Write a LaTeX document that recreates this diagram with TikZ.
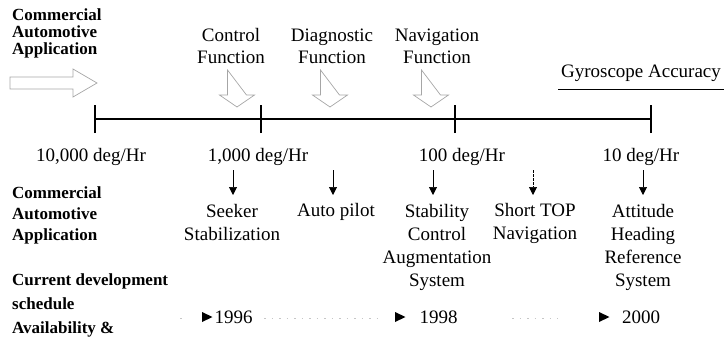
\documentclass[tikz,border=0pt]{standalone}
\usepackage{fontspec}
\setmainfont{Liberation Serif}
\usetikzlibrary{arrows.meta}
\begin{document}
\begin{tikzpicture}[x=1pt,y=-1pt,
  lbl/.style={inner sep=0pt, font=\fontsize{19}{22}\selectfont, align=center},
  app/.style={inner sep=0pt, font=\fontsize{19}{23}\selectfont, align=center},
  head/.style={inner sep=0pt, font=\bfseries\fontsize{17}{#1}\selectfont, align=left, anchor=west},
  hollow/.style={draw=gray!70, line width=0.7pt, line join=miter},
  pointer/.style={line width=0.7pt, -{Triangle[width=8pt,length=8pt]}},
  axis/.style={line width=2.4pt},
  tickmark/.style={line width=1.4pt},
  faint/.style={gray!45, line width=0.8pt, dash pattern=on 1.5pt off 6pt},
  hdown/.pic={\draw[hollow] (-9.5,-37) -- (-9.5,-12) -- (-17.5,-12) -- (0,0)
                 -- (17.5,-12) -- (9.5,-12) -- cycle;}
]
\useasboundingbox (0,0) rectangle (724,343);

% heading at the top left and the incoming hollow arrow
\node[head=17] (apptop) at (12,33) {Commercial\\Automotive\\Application};
\draw[hollow] (10,77) -- (73,77) -- (73,69) -- (97,83) -- (73,97) -- (73,89) -- (10,89) -- cycle;

% function labels with their hollow arrows
\node[lbl] (fctrl) at (231,46) {Control\\Function};
\node[lbl] (fdiag) at (332,46) {Diagnostic\\Function};
\node[lbl] (fnav)  at (437,46) {Navigation\\Function};
\pic at (237,107) {hdown};
\pic at (330,107) {hdown};
\pic at (431,107) {hdown};

% accuracy axis
\node[lbl, anchor=center] (gyro) at (641,73) {Gyroscope Accuracy};
\coordinate (ul1) at (558,89);
\coordinate (ul2) at (724,89);
\draw[line width=0.8pt] (ul1) -- (ul2);

\coordinate (t1) at (95,119);
\coordinate (t2) at (261,119);
\coordinate (t3) at (455,119);
\coordinate (t4) at (651,119);
\draw[axis] (t1) -- (t4);
\foreach \t in {t1,t2,t3,t4}
  \draw[tickmark] ([yshift=-14pt]\t) -- ([yshift=14pt]\t);

\node[lbl] (d1) at (91,157)  {10,000 deg/Hr};
\node[lbl] (d2) at (258,157) {1,000 deg/Hr};
\node[lbl] (d3) at (462,157) {100 deg/Hr};
\node[lbl] (d4) at (641,157) {10 deg/Hr};

% application row
\node[head=21] (applow) at (12,215) {Commercial\\Automotive\\Application};
\node[app] (seeker) at (232,222.5) {Seeker\\Stabilization};
\node[app] (pilot)  at (336,212)   {Auto pilot};
\node[app] (stab)   at (437,247)   {Stability\\Control\\Augmentation\\System};
\node[app] (stop)   at (535,223.5) {Short TOP\\Navigation};
\node[app] (ahrs)   at (643,247)   {Attitude\\Heading\\Reference\\System};

\foreach \n/\x in {a/233,b/333,c/433,e/643} {
  \coordinate (\n s) at (\x,170);
  \coordinate (\n e) at (\x,195);
  \draw[pointer] (\n s) -- (\n e);
}
\coordinate (ds) at (533,170);
\coordinate (de) at (533,195);
\draw[pointer, dash pattern=on 2.5pt off 1.5pt] (ds) -- (de);

% development schedule row
\node[head=24] (sched) at (12,305) {Current development\\schedule\\Availability \&};

\node[lbl] (y1) at (233.5,317) {1996};
\node[lbl] (y2) at (438.5,317) {1998};
\node[lbl] (y3) at (641,317)   {2000};
\foreach \x in {202,395,599}
  \fill (\x,312) -- (\x+10.5,317) -- (\x,322) -- cycle;

\coordinate (f0) at (180,318);
\coordinate (f1) at (264,318);
\coordinate (f2) at (384,318);
\coordinate (f3) at (512,318);
\coordinate (f4) at (558,318);
\draw[faint] (f0) -- ++(4,0);
\draw[faint] (f1) -- (f2);
\draw[faint] (f3) -- (f4);
\end{tikzpicture}
\end{document}
